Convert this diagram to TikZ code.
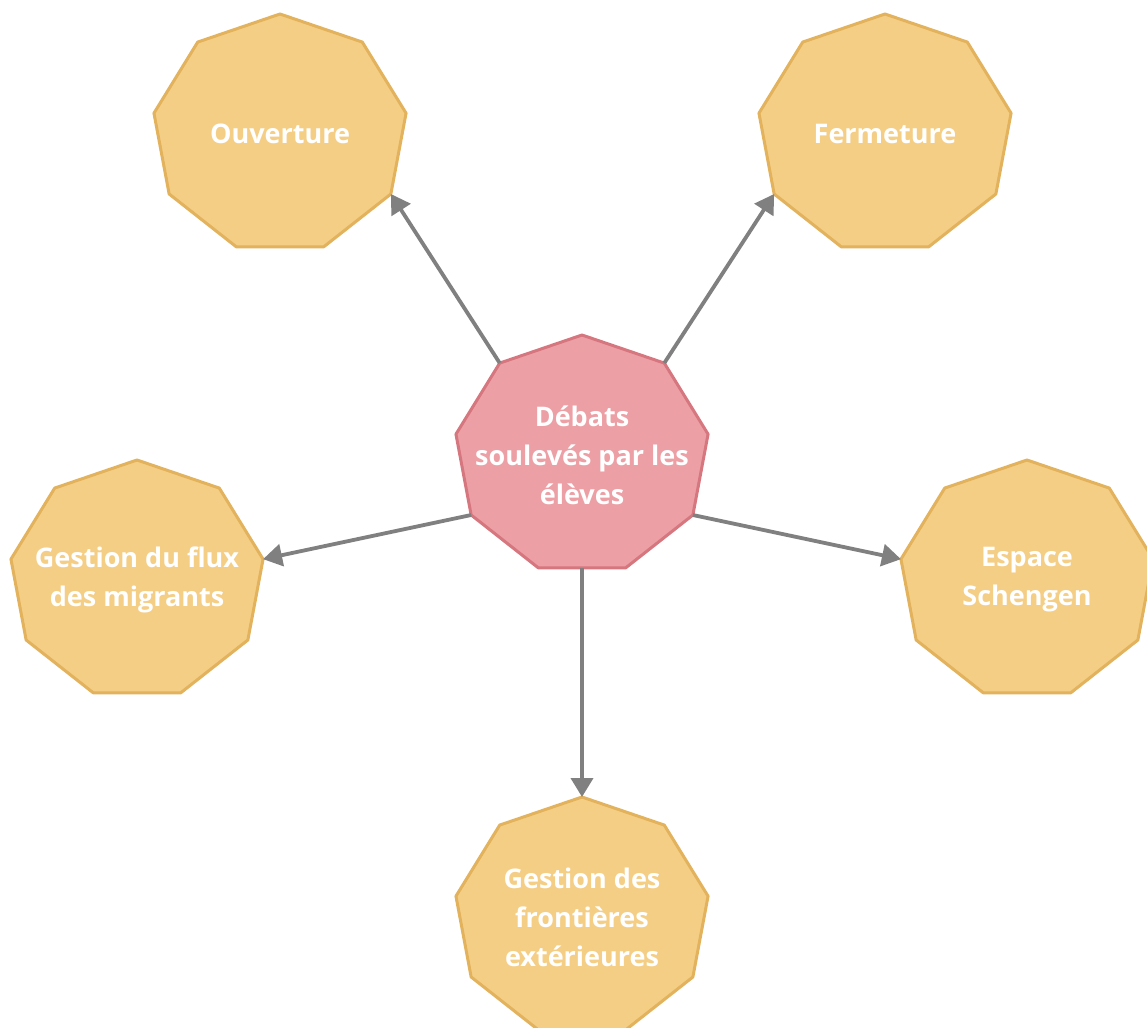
\documentclass[tikz,border=0pt]{standalone}
\usepackage{fontspec}
\setmainfont{Open Sans}
\usetikzlibrary{arrows.meta}
\definecolor{ofill}{RGB}{245,206,134}
\definecolor{oline}{RGB}{226,178,92}
\definecolor{pfill}{RGB}{236,160,165}
\definecolor{pline}{RGB}{214,118,126}
\definecolor{arr}{RGB}{128,128,128}
\newcommand\nonagon[4]{%
  \begin{scope}[shift={(#2)}]
    \draw[#3] (90:128pt and 120pt) -- (130:128pt and 120pt) -- (170:128pt and 120pt)
      -- (210:128pt and 120pt) -- (250:128pt and 120pt) -- (290:128pt and 120pt)
      -- (330:128pt and 120pt) -- (10:128pt and 120pt) -- (50:128pt and 120pt) -- cycle;
    \foreach \a in {10,50,90,130,170,210,250,290,330}
      \coordinate (#1-\a) at (\a:128pt and 120pt);
    \coordinate (#1-270) at (270:112.8pt);
    \node[lbl] (#1) at (0,0) {#4};
  \end{scope}}
\begin{document}
\begin{tikzpicture}[x=1pt,y=-1pt,
  orangebox/.style={fill=ofill, draw=oline, line width=3pt, line join=round},
  pinkbox/.style={fill=pfill, draw=pline, line width=3pt, line join=round},
  lbl/.style={text=white, font=\fontsize{27}{39}\selectfont\bfseries, align=center, inner sep=0pt},
  conn/.style={draw=arr, line width=3.8pt, -{Triangle[length=19pt,width=22pt]}}]
  \useasboundingbox[fill=white] (0,0) rectangle (1147,1027);
  \nonagon{ouv}{280,134}{orangebox}{Ouverture}
  \nonagon{fer}{885,134}{orangebox}{Fermeture}
  \nonagon{deb}{582,455}{pinkbox}{Débats\\soulevés par les\\élèves}
  \nonagon{flux}{137,580}{orangebox}{Gestion du flux\\des migrants}
  \nonagon{esp}{1027,580}{orangebox}{Espace\\Schengen}
  \nonagon{front}{582,917}{orangebox}{Gestion des\\frontières\\extérieures}
  \draw[conn] (deb-130) -- (ouv-330);
  \draw[conn] (deb-50) -- (fer-210);
  \draw[conn] (deb-210) -- (flux-10);
  \draw[conn] (deb-330) -- (esp-170);
  \draw[conn] (deb-270) -- (front-90);
\end{tikzpicture}
\end{document}
